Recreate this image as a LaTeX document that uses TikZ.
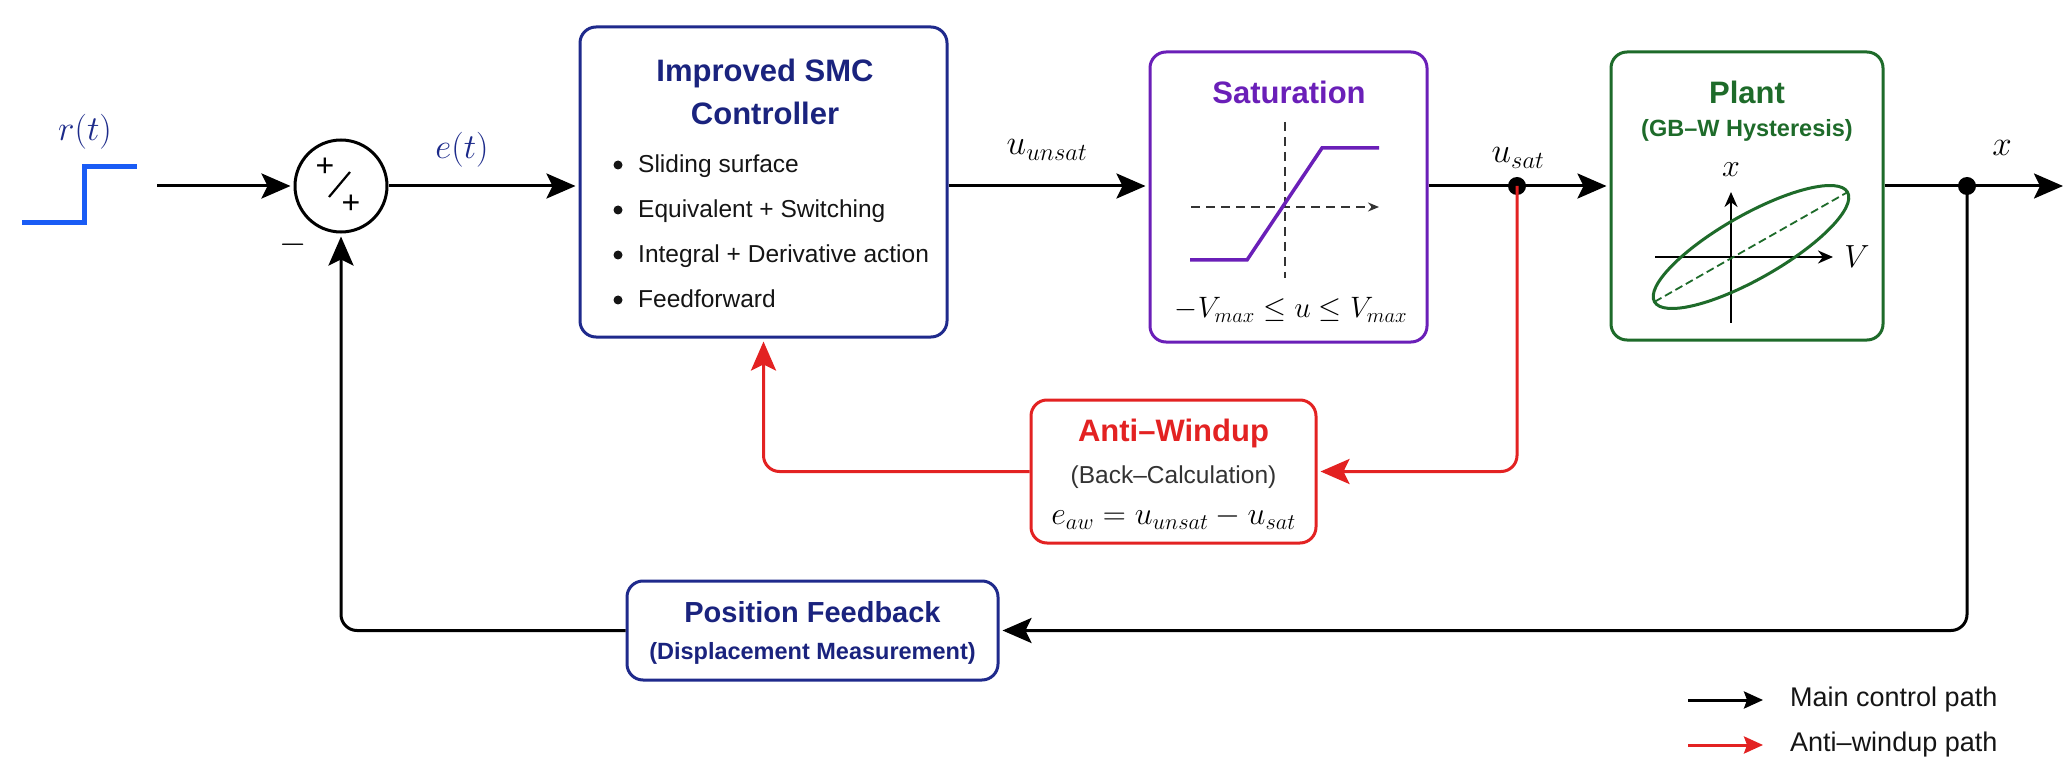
\RequirePackage{fix-cm}
\documentclass[tikz,border=0pt]{standalone}
\usepackage{fontspec}
\setmainfont{Liberation Sans}
\usetikzlibrary{arrows.meta}
\definecolor{navy}{HTML}{1F2A8C}
\definecolor{navytext}{HTML}{1A237E}
\definecolor{purp}{HTML}{6A1FB8}
\definecolor{grn}{HTML}{1E6B2A}
\definecolor{redc}{HTML}{E32222}
\definecolor{stepblue}{HTML}{1A5CF5}
\definecolor{labblue}{HTML}{1C2A8A}
\definecolor{dgray}{HTML}{333333}
\definecolor{txt}{HTML}{151515}
\begin{document}
\begin{tikzpicture}[x=1pt,y=-1pt,
  box/.style={draw, line width=3pt, rounded corners=16pt, fill=white, inner sep=0pt},
  conn/.style={line width=3pt, -{Stealth[length=29pt,width=25pt,inset=6pt]}, shorten >=3pt},
  legarrow/.style={line width=3pt, -{Stealth[length=19pt,width=17pt,inset=3pt]}},
  title/.style={font=\fontsize{31}{43}\selectfont\bfseries, align=center, inner sep=0pt},
  subbold/.style={font=\fontsize{23.5}{28}\selectfont\bfseries, align=center, inner sep=0pt},
  subreg/.style={font=\fontsize{24.5}{28}\selectfont, align=center, inner sep=0pt},
  bul/.style={font=\fontsize{24.5}{28}\selectfont, anchor=base west, inner sep=0pt, text=txt},
  mathlab/.style={font=\fontsize{35}{40}\selectfont, inner sep=0pt},
  leg/.style={font=\fontsize{27}{32}\selectfont, anchor=west, inner sep=0pt, text=txt},
  dot/.style={circle, fill=black, inner sep=0pt, minimum size=18pt}
]
\fill[white] (0,0) rectangle (2064,759);
\useasboundingbox (0,0) rectangle (2064,759);

% reference step
\draw[stepblue, line width=5pt] (22,223) -- (84,223) -- (84,167) -- (137,167);
\node[mathlab, text=labblue] (rlab) at (85,132) {$r(t)$};

% summing junction
\node[draw, circle, line width=3pt, minimum size=92pt, inner sep=0pt] (sum) at (341,186) {};
\node[font=\fontsize{32}{34}\selectfont, inner sep=0pt] (plusa) at (325,167) {+};
\node[font=\fontsize{32}{34}\selectfont, inner sep=0pt] (plusb) at (351,204) {+};
\draw[line width=2.2pt] (329,197) -- (350,172);
\node[mathlab] (minus) at (293,245) {$-$};

\coordinate (rin) at (157,186);
\draw[conn] (rin) -- (sum.west);
\node[mathlab, text=labblue] (elab) at (462,150) {$e(t)$};

% controller
\node[box, draw=navy, minimum width=367pt, minimum height=310pt] (ctrl) at (763.5,182) {};
\node[title, text=navytext] (ctrlt) at (765,92) {Improved SMC\\Controller};
\fill[txt] (618,165) circle (4.5);
\fill[txt] (618,210) circle (4.5);
\fill[txt] (618,255) circle (4.5);
\fill[txt] (618,300) circle (4.5);
\node[bul] (b1) at (638,173) {Sliding surface};
\node[bul] (b2) at (638,218) {Equivalent + Switching};
\node[bul] (b3) at (638,263) {Integral + Derivative action};
\node[bul] (b4) at (638,308) {Feedforward};

\draw[conn] (sum.east) -- (ctrl.west |- sum.east);

% saturation
\node[box, draw=purp, minimum width=277pt, minimum height=290pt] (sat) at (1288.5,197) {};
\node[title, text=purp] (satt) at (1289,92) {Saturation};
\draw[dgray, line width=2pt, dash pattern=on 9pt off 6pt, -{Stealth[length=11pt,width=9pt]}] (1191,207) -- (1379,207);
\draw[dgray, line width=2pt, dash pattern=on 9pt off 6pt] (1285,122) -- (1285,278);
\draw[purp, line width=3.5pt] (1190,260) -- (1247,260) -- (1322,148) -- (1379,148);
\node[font=\fontsize{29.5}{34}\selectfont, inner sep=0pt] (satl) at (1291,310) {$-V_{max}\le u\le V_{max}$};

\draw[conn] (ctrl.east |- sum.east) -- (sat.west |- sum.east);
\node[mathlab] (uunsat) at (1047,150) {$u_{unsat}$};

% plant
\node[box, draw=grn, minimum width=272pt, minimum height=288pt] (plant) at (1747,196) {};
\node[title, text=grn] (plantt) at (1747,92) {Plant};
\node[subbold, text=grn] (plants) at (1747,130) {(GB--W Hysteresis)};
\draw[line width=2.5pt, -{Stealth[length=15pt,width=13pt]}] (1731,323) -- (1731,192);
\draw[line width=2.5pt, -{Stealth[length=15pt,width=13pt]}] (1655,257) -- (1833,257);
\node[font=\fontsize{32}{36}\selectfont, inner sep=0pt] (xax) at (1731,170) {$x$};
\node[font=\fontsize{32}{36}\selectfont, inner sep=0pt] (vax) at (1857,257) {$V$};
\begin{scope}[shift={(1751,247)}, rotate=29.6]
  \draw[grn, line width=3pt] (0,0) ellipse [x radius=111, y radius=32];
  \draw[grn, line width=1.8pt, dash pattern=on 8pt off 4pt] (-111,0) -- (111,0);
\end{scope}

\draw[conn] (sat.east |- sum.east) -- (plant.west |- sum.east);
\coordinate (usat) at (1517,186);
\node[dot] (usatdot) at (usat) {};
\node[mathlab] (usatl) at (1518,158) {$u_{sat}$};

% output
\coordinate (xout) at (2066,186);
\draw[conn] (plant.east |- sum.east) -- (xout);
\coordinate (xtap) at (1967,186);
\node[dot] (xdot) at (xtap) {};
\node[mathlab] (xlab) at (2002,148) {$x$};

% anti-windup
\node[box, draw=redc, minimum width=285pt, minimum height=143pt] (aw) at (1173.5,471.5) {};
\node[title, text=redc] (awt) at (1173.5,433) {Anti--Windup};
\node[subreg, text=dgray] (aws) at (1173.5,477) {(Back--Calculation)};
\node[font=\fontsize{32}{36}\selectfont, inner sep=0pt] (awf) at (1173.5,518) {$e_{aw}=u_{unsat}-u_{sat}$};

\draw[redc, conn, rounded corners=16pt] (usat) -- (usat |- aw.east) -- (aw.east);
\draw[redc, conn, rounded corners=16pt] (aw.west) -- (ctrl.south |- aw.west) -- (ctrl.south);

% position feedback
\node[box, draw=navy, minimum width=371pt, minimum height=99pt] (pf) at (812.5,630.5) {};
\node[title, text=navytext, font=\fontsize{29}{34}\selectfont\bfseries] (pft) at (812.5,612) {Position Feedback};
\node[subbold, text=navytext] (pfs) at (812.5,653) {(Displacement Measurement)};

\draw[conn, rounded corners=16pt] (xtap) -- (xtap |- pf.east) -- (pf.east);
\draw[conn, rounded corners=16pt] (pf.west) -- (sum.south |- pf.west) -- (sum.south);

% legend
\coordinate (l1a) at (1688,700);
\coordinate (l1b) at (1763,700);
\coordinate (l2a) at (1688,745);
\coordinate (l2b) at (1763,745);
\draw[legarrow] (l1a) -- (l1b);
\draw[legarrow, redc] (l2a) -- (l2b);
\node[leg] (leg1) at (1790,700) {Main control path};
\node[leg] (leg2) at (1790,745) {Anti--windup path};
\end{tikzpicture}
\end{document}
